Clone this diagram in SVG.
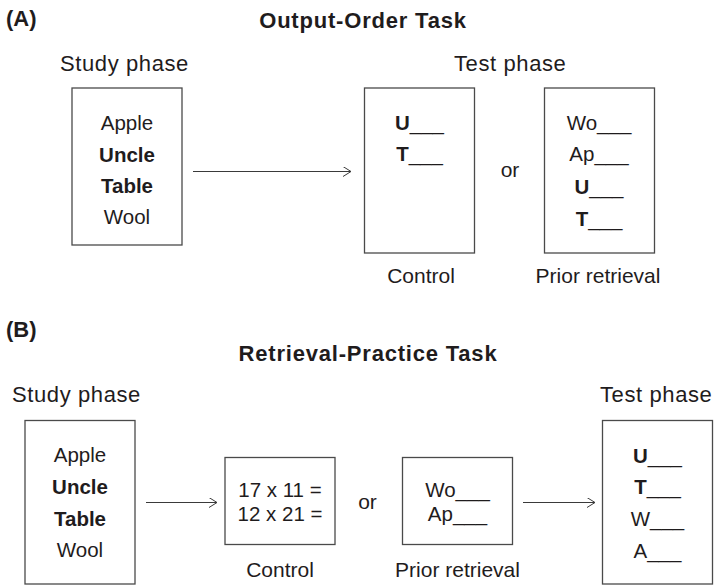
<svg xmlns="http://www.w3.org/2000/svg" width="717" height="585" viewBox="0 0 717 585">
<style>
text{font-family:"Liberation Sans",Arial,Helvetica,sans-serif;fill:#1f1c1d;}
.w{font-size:20.5px;text-anchor:middle;}
.b{font-weight:bold;}
.lab{font-size:21px;text-anchor:middle;}
.ph{font-size:22px;letter-spacing:0.6px;}
.ttl{font-size:22px;font-weight:bold;letter-spacing:0.8px;text-anchor:middle;}
.pn{font-size:22px;font-weight:bold;}
.box{fill:#fff;stroke:#4a4a4a;stroke-width:1.3;}
.ar{fill:none;stroke:#3a3a3a;stroke-width:1;}
</style>
<defs>
<marker id="ah" markerUnits="userSpaceOnUse" markerWidth="10" markerHeight="12" refX="8" refY="5" orient="auto">
<path d="M0,0 L8,5 L0,10" fill="none" stroke="#3a3a3a" stroke-width="1"/>
</marker>
</defs>
<g id="panelA-labels">
<text class="pn" x="6" y="26">(A)</text>
<text class="ttl" x="363" y="28">Output-Order Task</text>
<text class="ph" x="60" y="71">Study phase</text>
<text class="ph" x="454" y="71">Test phase</text>
<text class="lab" x="421" y="283">Control</text>
<text class="lab" x="598" y="283">Prior retrieval</text>
<text class="lab" x="510" y="177">or</text>
</g>
<g id="A-study">
<rect class="box" x="72" y="88" width="110" height="157"/>
<text class="w" x="127" y="130">Apple</text>
<text class="w b" x="127" y="161.5">Uncle</text>
<text class="w b" x="127" y="193">Table</text>
<text class="w" x="127" y="224">Wool</text>
</g>
<g id="A-control">
<rect class="box" x="364.5" y="88" width="110" height="165"/>
<text class="w" x="419.5" y="129.5"><tspan class="b">U</tspan>___</text>
<text class="w" x="419.5" y="161"><tspan class="b">T</tspan>___</text>
</g>
<g id="A-prior">
<rect class="box" x="544.5" y="88" width="110" height="165"/>
<text class="w" x="599" y="129.5">Wo___</text>
<text class="w" x="599" y="161">Ap___</text>
<text class="w" x="599" y="194"><tspan class="b">U</tspan>___</text>
<text class="w" x="599" y="226"><tspan class="b">T</tspan>___</text>
</g>
<g id="panelB-labels">
<text class="pn" x="6" y="337">(B)</text>
<text class="ttl" x="368" y="361">Retrieval-Practice Task</text>
<text class="ph" x="12" y="402">Study phase</text>
<text class="ph" x="600" y="402">Test phase</text>
<text class="lab" x="280" y="577">Control</text>
<text class="lab" x="457.5" y="577">Prior retrieval</text>
<text class="lab" x="367.5" y="509">or</text>
</g>
<g id="B-study">
<rect class="box" x="25" y="420.5" width="110" height="163.5"/>
<text class="w" x="80" y="462">Apple</text>
<text class="w b" x="80" y="493.5">Uncle</text>
<text class="w b" x="80" y="525.5">Table</text>
<text class="w" x="80" y="557">Wool</text>
</g>
<g id="B-control">
<rect class="box" x="225" y="457.5" width="110" height="87"/>
<text class="w" x="280" y="497">17 x 11 =</text>
<text class="w" x="280" y="521">12 x 21 =</text>
</g>
<g id="B-prior">
<rect class="box" x="402.5" y="457.5" width="110" height="87"/>
<text class="w" x="457.5" y="497">Wo___</text>
<text class="w" x="457.5" y="521">Ap___</text>
</g>
<g id="B-test">
<rect class="box" x="602.5" y="420.5" width="110" height="163.5"/>
<text class="w" x="657.5" y="462.5"><tspan class="b">U</tspan>___</text>
<text class="w" x="657.5" y="494"><tspan class="b">T</tspan>___</text>
<text class="w" x="657.5" y="526">W___</text>
<text class="w" x="657.5" y="557.5">A___</text>
</g>
<g id="connectors">
<line class="ar" x1="193" y1="171.5" x2="351" y2="171.5" marker-end="url(#ah)"/>
<line class="ar" x1="146" y1="502.5" x2="217" y2="502.5" marker-end="url(#ah)"/>
<line class="ar" x1="523" y1="502.5" x2="595" y2="502.5" marker-end="url(#ah)"/>
</g>
</svg>
